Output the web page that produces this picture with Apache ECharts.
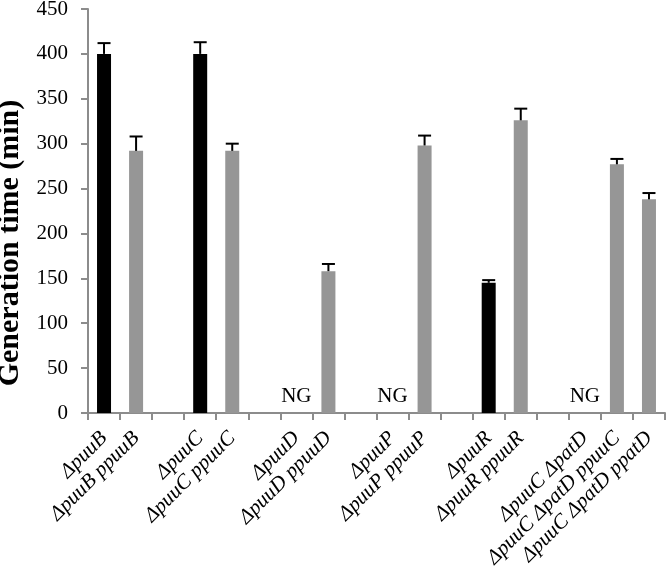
<!DOCTYPE html>
<html>
<head>
<meta charset="utf-8">
<script src="https://cdn.jsdelivr.net/npm/echarts@6/dist/echarts.min.js"></script>
<style>html,body{margin:0;padding:0;background:#fff}#c{width:666px;height:577px}</style>
</head>
<body>
<div id="c"></div>
<script>
// 18 category slots; empty strings are spacer slots
const categories = ['ΔpuuB','ΔpuuB ppuuB','', 'ΔpuuC','ΔpuuC ppuuC','', 'ΔpuuD','ΔpuuD ppuuD','', 'ΔpuuP','ΔpuuP ppuuP','', 'ΔpuuR','ΔpuuR ppuuR','', 'ΔpuuC ΔpatD','ΔpuuC ΔpatD ppuuC','ΔpuuC ΔpatD ppatD'];
const values =   [400, 292, null, 400, 292, null, 0, 158, null, 0, 298, null, 145, 326, null, 0, 277, 238];
const errors =   [12, 16, null, 13, 8, null, null, 8, null, null, 11, null, 3, 13, null, null, 6, 7];
const isMutant = [true, false, null, true, false, null, true, false, null, true, false, null, true, false, null, true, false, false];
const noGrowth = [false, false, false, false, false, false, true, false, false, true, false, false, false, false, false, true, false, false];
const yTicks = {min: 0, max: 450, interval: 50};

const serif = '"Liberation Serif", "DejaVu Serif", serif';
const chart = echarts.init(document.getElementById('c'));

const barData = values.map((v, i) => {
  if (v === null) return null;
  return {
    value: v,
    itemStyle: {color: isMutant[i] ? '#000000' : '#969696'},
    label: noGrowth[i] ? {show: true, formatter: 'NG'} : {show: false}
  };
});

const errData = [];
values.forEach((v, i) => { if (v !== null && errors[i] !== null) errData.push([i, v, v + errors[i]]); });

chart.setOption({
  animation: false,
  grid: {left: 88, right: 1, top: 9, bottom: 164, containLabel: false, outerBoundsMode: 'none'},
  xAxis: {
    type: 'category',
    data: categories,
    boundaryGap: true,
    axisLine: {lineStyle: {color: '#8c8c8c', width: 2}},
    axisTick: {show: true, length: 7, interval: 0, lineStyle: {color: '#8c8c8c', width: 2}},
    axisLabel: {interval: 0, rotate: 45, margin: 22, color: '#000', fontFamily: serif, fontStyle: 'italic', fontSize: 21, hideOverlap: false}
  },
  yAxis: {
    type: 'value',
    min: yTicks.min, max: yTicks.max, interval: yTicks.interval,
    name: 'Generation time (min)',
    nameLocation: 'middle',
    nameGap: 57,
    nameTextStyle: {fontFamily: serif, fontWeight: 'bold', fontSize: 30, color: '#000', padding: [0, 64, 0, 0]},
    axisLine: {show: true, lineStyle: {color: '#8c8c8c', width: 2}},
    axisTick: {show: true, length: 7, lineStyle: {color: '#8c8c8c', width: 2}},
    axisLabel: {margin: 20, color: '#000', fontFamily: serif, fontSize: 21},
    splitLine: {show: false}
  },
  series: [
    {
      type: 'bar',
      data: barData,
      barWidth: 14,
      label: {position: 'top', distance: 6, fontFamily: serif, fontSize: 21, color: '#000'}
    },
    {
      type: 'custom',
      data: errData,
      z: 5,
      renderItem: function (params, api) {
        const x = api.value(0);
        const base = api.coord([x, api.value(1)]);
        const top = api.coord([x, api.value(2)]);
        const cap = 6.5;
        return {
          type: 'group',
          children: [
            {type: 'line', shape: {x1: base[0], y1: base[1], x2: top[0], y2: top[1]}, style: {stroke: '#000', lineWidth: 2}},
            {type: 'line', shape: {x1: top[0] - cap, y1: top[1], x2: top[0] + cap, y2: top[1]}, style: {stroke: '#000', lineWidth: 2}}
          ]
        };
      }
    }
  ]
});
</script>
</body>
</html>
